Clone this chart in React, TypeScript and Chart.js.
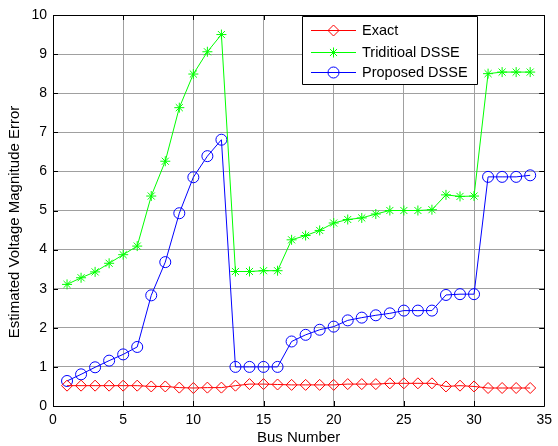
import React, { useEffect, useRef } from "react";
import { Chart, registerables } from "chart.js";

Chart.register(...registerables);

const buses = Array.from({ length: 34 }, (_, i) => i + 1);
const exactVals = [0.52, 0.52, 0.52, 0.52, 0.52, 0.52, 0.5, 0.5, 0.47, 0.46, 0.47, 0.47, 0.52, 0.56, 0.56, 0.55, 0.54, 0.54, 0.54, 0.54, 0.56, 0.56, 0.56, 0.58, 0.58, 0.58, 0.58, 0.5, 0.52, 0.5, 0.46, 0.46, 0.46, 0.46];
const traditionalVals = [3.11, 3.28, 3.43, 3.65, 3.87, 4.09, 5.37, 6.26, 7.63, 8.49, 9.06, 9.5, 3.44, 3.44, 3.46, 3.46, 4.25, 4.36, 4.49, 4.68, 4.77, 4.81, 4.91, 5.0, 5.0, 5.0, 5.02, 5.4, 5.36, 5.37, 8.5, 8.54, 8.54, 8.54];
const proposedVals = [0.64, 0.81, 0.99, 1.16, 1.32, 1.51, 2.83, 3.68, 4.93, 5.85, 6.39, 6.81, 1.0, 1.0, 1.0, 1.0, 1.65, 1.82, 1.95, 2.03, 2.19, 2.26, 2.32, 2.37, 2.44, 2.44, 2.44, 2.84, 2.86, 2.86, 5.86, 5.86, 5.86, 5.9];
const seriesNames = ["Exact", "Triditioal DSSE", "Proposed DSSE"];
const xTitle = "Bus Number";
const yTitle = "Estimated Voltage Magnitude Error";

const FONT = "'Liberation Sans', Arial, sans-serif";

function marker(ctx: CanvasRenderingContext2D, style: string, x: number, y: number, r: number) {
  ctx.beginPath();
  if (style === "rectRot") {
    ctx.moveTo(x, y - r);
    ctx.lineTo(x + r, y);
    ctx.lineTo(x, y + r);
    ctx.lineTo(x - r, y);
    ctx.closePath();
  } else if (style === "circle") {
    ctx.arc(x, y, r, 0, Math.PI * 2);
  } else {
    ctx.moveTo(x - r, y);
    ctx.lineTo(x + r, y);
    ctx.moveTo(x, y - r);
    ctx.lineTo(x, y + r);
    const d = r * Math.SQRT1_2;
    ctx.moveTo(x - d, y - d);
    ctx.lineTo(x + d, y + d);
    ctx.moveTo(x - d, y + d);
    ctx.lineTo(x + d, y - d);
  }
  ctx.stroke();
}

const boxPlugin = {
  id: "boxTicks",
  afterDraw(chart: any) {
    const { ctx, chartArea: a, scales } = chart;
    ctx.save();
    ctx.strokeStyle = "#000";
    ctx.lineWidth = 1;
    ctx.beginPath();
    ctx.rect(Math.round(a.left) + 0.5, Math.round(a.top) + 0.5, Math.round(a.right - a.left), Math.round(a.bottom - a.top));
    ctx.stroke();
    const tl = 5;
    ctx.beginPath();
    scales.x.ticks.forEach((t: any) => {
      const px = Math.round(scales.x.getPixelForValue(t.value)) + 0.5;
      ctx.moveTo(px, a.bottom);
      ctx.lineTo(px, a.bottom - tl);
      ctx.moveTo(px, a.top);
      ctx.lineTo(px, a.top + tl);
    });
    scales.y.ticks.forEach((t: any) => {
      const py = Math.round(scales.y.getPixelForValue(t.value)) + 0.5;
      ctx.moveTo(a.left, py);
      ctx.lineTo(a.left + tl, py);
      ctx.moveTo(a.right, py);
      ctx.lineTo(a.right - tl, py);
    });
    ctx.stroke();

    // y title
    ctx.save();
    ctx.translate(15, 222);
    ctx.rotate(-Math.PI / 2);
    ctx.fillStyle = "#000";
    ctx.font = `15px ${FONT}`;
    ctx.textAlign = "center";
    ctx.textBaseline = "middle";
    ctx.fillText(yTitle, 0, 0);
    ctx.restore();

    // x title
    ctx.fillStyle = "#000";
    ctx.font = `15px ${FONT}`;
    ctx.textAlign = "center";
    ctx.textBaseline = "middle";
    ctx.fillText(xTitle, (a.left + a.right) / 2, 438);

    // legend
    const lx = 302, ly = 16, lw = 175, lh = 68;
    ctx.fillStyle = "#fff";
    ctx.fillRect(lx, ly, lw, lh);
    ctx.strokeStyle = "#000";
    ctx.beginPath();
    ctx.rect(lx + 0.5, ly + 0.5, lw, lh);
    ctx.stroke();
    const rows = [30, 52, 72];
    chart.data.datasets.forEach((ds: any, i: number) => {
      const y = rows[i] + 0.5;
      ctx.strokeStyle = ds.borderColor;
      ctx.lineWidth = 1;
      ctx.beginPath();
      ctx.moveTo(311, y);
      ctx.lineTo(356, y);
      ctx.stroke();
      marker(ctx, ds.pointStyle, 333.5, y, ds.pointRadius);
      ctx.fillStyle = "#000";
      ctx.font = `14.5px ${FONT}`;
      ctx.textBaseline = "middle";
      ctx.textAlign = "left";
      ctx.fillText(ds.label, 362, y);
    });
    ctx.restore();
  },
};

export default function App() {
  const ref = useRef<HTMLCanvasElement>(null);
  useEffect(() => {
    document.body.style.margin = "0";
    const ctx = ref.current!.getContext("2d")!;
    const mk = (label: string, data: number[], color: string, style: string, r: number) => ({
      label,
      data: buses.map((b, i) => ({ x: b, y: data[i] })),
      borderColor: color,
      backgroundColor: "rgba(0,0,0,0)",
      borderWidth: 1,
      pointStyle: style,
      pointRadius: r,
      pointBorderColor: color,
      pointBackgroundColor: "rgba(0,0,0,0)",
      pointBorderWidth: 1,
      tension: 0,
    });
    const chart = new Chart(ctx, {
      type: "line",
      data: {
        datasets: [
          mk(seriesNames[0], exactVals, "#ff0000", "rectRot", 5.5),
          mk(seriesNames[1], traditionalVals, "#00ff00", "star", 5),
          mk(seriesNames[2], proposedVals, "#0000ff", "circle", 5.5),
        ],
      },
      options: {
        animation: false,
        responsive: false,
        layout: { padding: { left: 0, top: 15, right: 10, bottom: 0 } },
        plugins: { legend: { display: false }, tooltip: { enabled: false } },
        scales: {
          x: {
            type: "linear",
            min: 0,
            max: 35,
            ticks: { stepSize: 5, color: "#000", font: { family: FONT, size: 14 }, padding: 6 },
            grid: { color: "#a0a0a0", drawTicks: false },
            border: { display: false },
            title: { display: false },
            afterFit: (s: any) => { s.height = 40; },
          },
          y: {
            min: 0,
            max: 10,
            ticks: { stepSize: 1, color: "#000", font: { family: FONT, size: 14 }, padding: 6 },
            grid: { color: "#a0a0a0", drawTicks: false },
            border: { display: false },
            title: { display: false },
            afterFit: (s: any) => { s.width = 53; },
          },
        },
      },
      plugins: [boxPlugin],
    } as any);
    return () => chart.destroy();
  }, []);
  return (
    <div style={{ position: "absolute", left: 0, top: 0, width: 558, height: 446, background: "#fff" }}>
      <canvas ref={ref} width={558} height={446} style={{ width: 558, height: 446 }} />
    </div>
  );
}
